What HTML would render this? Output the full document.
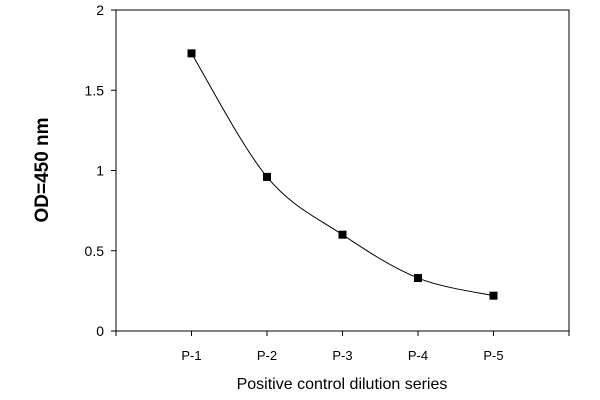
<!DOCTYPE html>
<html><head><meta charset="utf-8"><style>body{margin:0;background:#fff}svg{display:block}</style></head>
<body>
<svg id="chart" width="600" height="400" xmlns="http://www.w3.org/2000/svg" font-family="Liberation Sans, sans-serif">
<rect x="116" y="10" width="453" height="321" fill="none" stroke="#000" stroke-width="1"/>
<g id="axes"></g>
<path id="curve" fill="none" stroke="#000" stroke-width="1"/>
<g id="marks"></g>
<text x="342" y="389" text-anchor="middle" font-size="16" fill="#000">Positive control dilution series</text>
<text transform="translate(48,170) rotate(-90)" text-anchor="middle" font-size="19" font-weight="bold" fill="#000">OD=450 nm</text>
</svg>
<script>
const categories = ["P-1","P-2","P-3","P-4","P-5"];
const values = [1.73, 0.96, 0.60, 0.33, 0.22];
const yTicks = [0, 0.5, 1, 1.5, 2];
const yTickLabels = ["0","0.5","1","1.5","2"];
const NS="http://www.w3.org/2000/svg";
const x0=116,x1=569,y0=331,y1=10;
function xScale(i){return x0+(i+1)*(x1-x0)/(categories.length+1);}
function yScale(v){return y0-(v/2)*(y0-y1);}
const axes=document.getElementById('axes');
function mk(tag,attrs,parent){const e=document.createElementNS(NS,tag);for(const k in attrs)e.setAttribute(k,attrs[k]);parent.appendChild(e);return e;}
yTicks.forEach((t,i)=>{
  const y=yScale(t);
  const l=mk('line',{x1:x0-5,x2:x0,y1:y,y2:y,stroke:'#000'},axes);
  
  
  const tx=mk('text',{x:x0-12,y:y+5,'text-anchor':'end','font-size':14,fill:'#000'},axes);
  tx.textContent=yTickLabels[i];
  
  
});
for(let i=-1;i<=categories.length;i++){
  const x=xScale(i);
  const l=mk('line',{x1:x,x2:x,y1:y0,y2:y0+5,stroke:'#000'},axes);
  
  
}
categories.forEach((c,i)=>{
  const tx=mk('text',{x:xScale(i),y:y0+29,'text-anchor':'middle','font-size':13,fill:'#000'},axes);
  tx.textContent=c;
  
  
});
const pts=values.map((v,i)=>[xScale(i),yScale(v)]);
let d=`M${pts[0][0]},${pts[0][1]}`;
for(let i=0;i<pts.length-1;i++){
  const p0=pts[i-1]||pts[i],p1=pts[i],p2=pts[i+1],p3=pts[i+2]||p2;
  const c1=[p1[0]+(p2[0]-p0[0])/6,p1[1]+(p2[1]-p0[1])/6];
  const c2=[p2[0]-(p3[0]-p1[0])/6,p2[1]-(p3[1]-p1[1])/6];
  d+=` C${c1[0]},${c1[1]} ${c2[0]},${c2[1]} ${p2[0]},${p2[1]}`;
}
document.getElementById('curve').setAttribute('d',d);
const marks=document.getElementById('marks');
pts.forEach((p,i)=>{
  const r=mk('rect',{x:p[0]-4,y:p[1]-4,width:8,height:8,fill:'#000'},marks);
  
  
});
</script>
</body></html>
